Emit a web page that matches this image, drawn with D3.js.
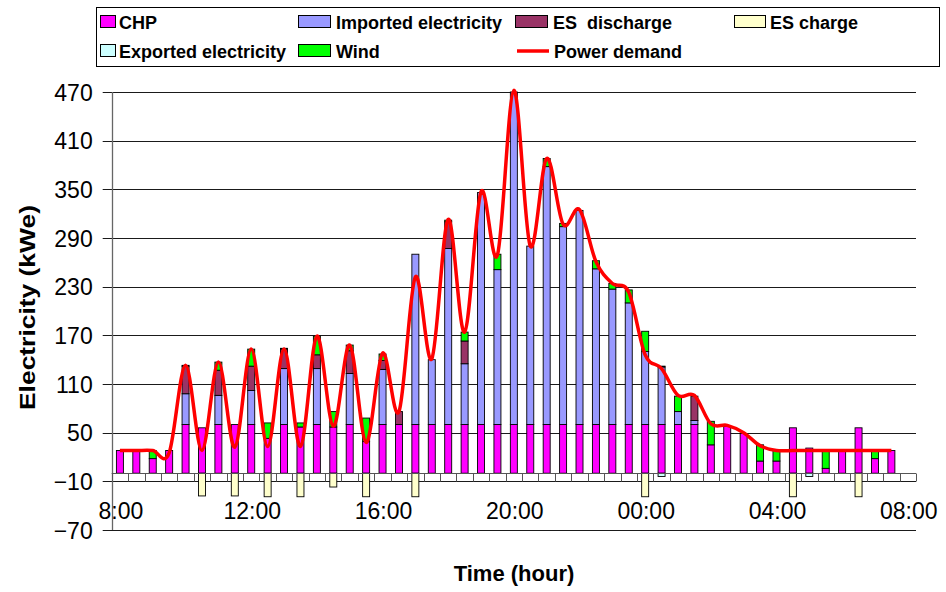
<!DOCTYPE html>
<html>
<head>
<meta charset="utf-8">
<script src="https://cdn.jsdelivr.net/npm/d3@7"></script>
<style>
  html, body { margin: 0; padding: 0; background: #fff; }
  svg { display: block; font-family: "Liberation Sans", Arial, sans-serif; }
</style>
</head>
<body>
<svg id="chart" width="946" height="592"></svg>
<script>
// ---------- data ----------
const categories = ["8:00","8:30","9:00","9:30","10:00","10:30","11:00","11:30","12:00","12:30",
  "13:00","13:30","14:00","14:30","15:00","15:30","16:00","16:30","17:00","17:30",
  "18:00","18:30","19:00","19:30","20:00","20:30","21:00","21:30","22:00","22:30",
  "23:00","23:30","00:00","00:30","01:00","01:30","02:00","02:30","03:00","03:30",
  "04:00","04:30","05:00","05:30","06:00","06:30","07:00","07:30","08:00"];
const tickLabels = ["8:00","12:00","16:00","20:00","00:00","04:00","08:00"];
const yTicks = [-70,-10,50,110,170,230,290,350,410,470];

const chp       = [28,28,18,28,60,56,60,60,60,43,60,57,60,57,60,39,60,60,60,60,60,60,60,60,60,60,60,60,60,60,60,60,60,60,60,60,35,58,49,15,15,56,31,6,28,56,18,28];
const imported  = [0,0,0,0,38,0,36,0,42,0,69,0,69,0,63,0,68,0,210,80,217,75,286,191,410,220,318,244,264,192,167,150,90,71,16,5,0,0,0,0,0,0,0,0,0,0,0,0];
const discharge = [0,0,0,0,34,0,31,0,30,0,24,0,17,0,28,0,11,16,0,0,33,28,0,0,0,0,0,0,0,0,0,0,0,0,0,30,0,0,0,0,0,0,0,0,0,0,0,0];
const wind      = [0,0,10,0,1,0,10,0,21,19,1,5,23,19,7,29,8,0,0,0,2,11,0,19,0,0,10,4,0,10,7,16,25,1,19,0,29,0,0,20,13,0,0,22,0,0,10,0];
const charge    = [0,0,0,0,0,-28,0,-28,0,-29,0,-29,0,-17,0,-29,0,0,-29,0,0,0,0,0,0,0,0,0,0,0,0,0,-29,0,0,0,0,0,0,0,0,-29,0,0,0,-29,0,0];
const exported  = [0,0,0,0,0,0,0,0,0,0,0,0,0,0,0,0,0,0,0,0,0,0,0,0,0,0,0,0,0,0,0,0,0,-4,0,0,0,0,0,0,0,0,-4,0,0,0,0,0];
const demand    = [28,28,28,25,133,28,137,32,153,33,153,33,169,58,158,38,148,76,242,141,313,174,347,269,472,280,388,307,325,261,234,223,146,129,96,96,61,59,50,34,28,28,28,28,28,28,28,28];

const seriesNames = ["CHP","Imported electricity","ES  discharge","ES charge","Exported electricity","Wind","Power demand"];
const colors = {
  "CHP": "#FF00FF",
  "Imported electricity": "#9999FF",
  "ES  discharge": "#993366",
  "ES charge": "#FFFFCC",
  "Exported electricity": "#CCFFFF",
  "Wind": "#00FF00",
  "Power demand": "#FF0000"
};

// ---------- layout ----------
const svg = d3.select("#chart");
const plot = { left: 111.7, right: 916, top: 92, bottom: 530 };

const x = d3.scaleBand().domain(categories).range([plot.left, plot.right]).padding(0);
const y = d3.scaleLinear().domain([-70, 470]).range([plot.bottom, plot.top]);
const barW = 7;

// gridlines + y tick marks
const gGrid = svg.append("g");
gGrid.selectAll("line").data(yTicks).enter().append("line")
  .attr("x1", plot.left - 9).attr("x2", plot.right)
  .attr("y1", d => Math.round(y(d)) + 0.5).attr("y2", d => Math.round(y(d)) + 0.5)
  .attr("stroke", "#1a1a1a").attr("stroke-width", 1);

// y axis labels
const yAxis = d3.axisLeft(y).tickValues(yTicks).tickSize(0).tickPadding(0);
const gY = svg.append("g").attr("transform", `translate(${plot.left - 19},0)`).call(yAxis);
gY.select(".domain").remove();
gY.selectAll("text").attr("font-size", 23).attr("fill", "#000")
  .attr("font-family", "'Liberation Sans', Arial, sans-serif").attr("dy", "0.36em");

// y axis line
svg.append("line").attr("x1", Math.round(plot.left) + 0.5).attr("x2", Math.round(plot.left) + 0.5)
  .attr("y1", plot.top).attr("y2", plot.bottom).attr("stroke", "#666").attr("stroke-width", 1.3);

// ---------- bars ----------
const gBars = svg.append("g");
function drawSeries(name, baseArr, vals) {
  gBars.append("g").selectAll("rect")
    .data(vals.map((v, i) => ({ v, i, base: baseArr[i] })).filter(d => d.v !== 0))
    .enter().append("rect")
    .attr("x", d => x(categories[d.i]) + x.bandwidth() / 2 - barW / 2)
    .attr("width", barW)
    .attr("y", d => y(Math.max(d.base, d.base + d.v)))
    .attr("height", d => Math.abs(y(d.base) - y(d.base + d.v)))
    .attr("fill", colors[name])
    .attr("stroke", "#000").attr("stroke-width", 0.9);
}
const zero = chp.map(() => 0);
const base1 = chp.slice();
const base2 = chp.map((v, i) => v + imported[i]);
const base3 = base2.map((v, i) => v + discharge[i]);
drawSeries("CHP", zero, chp);
drawSeries("Imported electricity", base1, imported);
drawSeries("ES  discharge", base2, discharge);
drawSeries("Wind", base3, wind);
drawSeries("ES charge", zero, charge);
drawSeries("Exported electricity", charge, exported);

// category axis at zero with tick marks between categories
const y0 = Math.round(y(0)) + 0.5;
svg.append("line").attr("x1", plot.left).attr("x2", plot.right).attr("y1", y0).attr("y2", y0)
  .attr("stroke", "#555").attr("stroke-width", 1);
const bounds = categories.map(c => x(c)).concat([plot.right]);
svg.append("g").selectAll("line").data(bounds).enter().append("line")
  .attr("x1", d => Math.round(d) + 0.5).attr("x2", d => Math.round(d) + 0.5)
  .attr("y1", y0).attr("y2", y0 + 8).attr("stroke", "#555").attr("stroke-width", 1);

// x tick labels
svg.append("g").selectAll("text").data(tickLabels.map((t, k) => ({ t, c: categories[k * 8] })))
  .enter().append("text")
  .attr("x", d => x(d.c) + x.bandwidth() / 2 + 1)
  .attr("y", 519)
  .attr("text-anchor", "middle").attr("font-size", 23).attr("fill", "#000")
  .text(d => d.t);

// ---------- demand line ----------
const line = d3.line()
  .x((d, i) => x(categories[i]) + x.bandwidth() / 2)
  .y(d => y(d))
  .curve(d3.curveCardinal.tension(0));
svg.append("path").datum(demand).attr("d", line)
  .attr("fill", "none").attr("stroke", colors["Power demand"]).attr("stroke-width", 3.5)
  .attr("stroke-linejoin", "round");

// ---------- axis titles ----------
svg.append("text").attr("transform", "translate(35,307.5) rotate(-90)")
  .attr("text-anchor", "middle").attr("font-size", 22).attr("font-weight", "bold")
  .attr("textLength", 205).attr("lengthAdjust", "spacingAndGlyphs")
  .text("Electricity (kWe)");
svg.append("text").attr("x", 514).attr("y", 581)
  .attr("text-anchor", "middle").attr("font-size", 22).attr("font-weight", "bold")
  .text("Time (hour)");

// ---------- legend ----------
const gLeg = svg.append("g");
gLeg.append("rect").attr("x", 96.5).attr("y", 7.5).attr("width", 843).attr("height", 59)
  .attr("fill", "#fff").attr("stroke", "#000").attr("stroke-width", 1);
const legendItems = [
  { name: "CHP", sx: 100, sw: 15, tx: 119, row: 0 },
  { name: "Imported electricity", sx: 298, sw: 32, tx: 336, row: 0 },
  { name: "ES  discharge", sx: 515, sw: 32, tx: 553, row: 0 },
  { name: "ES charge", sx: 734, sw: 31, tx: 770, row: 0 },
  { name: "Exported electricity", sx: 100, sw: 15, tx: 119, row: 1 },
  { name: "Wind", sx: 298, sw: 32, tx: 336, row: 1 },
  { name: "Power demand", sx: 517, sw: 32, tx: 554, row: 1, isLine: true }
];
const rowY = [22, 51];
legendItems.forEach(it => {
  const cy = rowY[it.row];
  if (it.isLine) {
    gLeg.append("line").attr("x1", it.sx).attr("x2", it.sx + it.sw).attr("y1", cy).attr("y2", cy)
      .attr("stroke", colors[it.name]).attr("stroke-width", 3.5);
  } else {
    gLeg.append("rect").attr("x", it.sx + 0.5).attr("y", cy - 6.5).attr("width", it.sw).attr("height", 12)
      .attr("fill", colors[it.name]).attr("stroke", "#000").attr("stroke-width", 1);
  }
  gLeg.append("text").attr("x", it.tx).attr("y", cy + 6.5)
    .attr("font-size", 18).attr("font-weight", "bold").attr("fill", "#000")
    .attr("xml:space", "preserve").style("white-space", "pre")
    .text(it.name);
});
</script>
</body>
</html>
